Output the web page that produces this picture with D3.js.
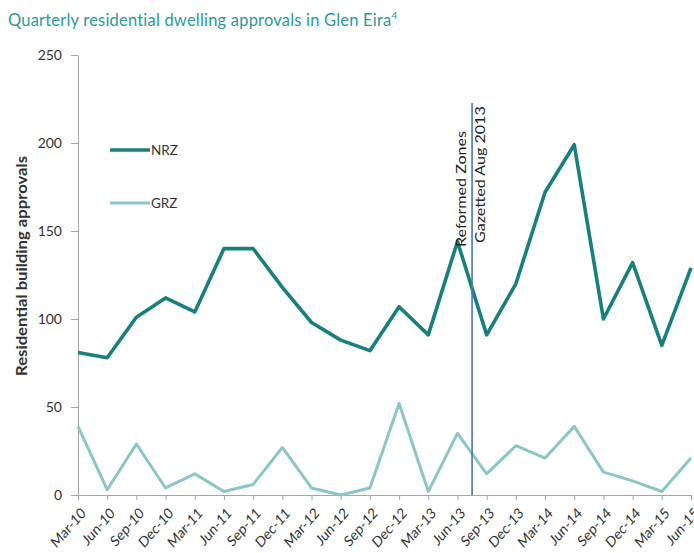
<!DOCTYPE html>
<html>
<head>
<meta charset="utf-8">
<script src="https://cdn.jsdelivr.net/npm/d3@7"></script>
<style>
  html, body { margin: 0; padding: 0; background: #fff; }
  svg { display: block; font-family: Lato, "Open Sans", sans-serif; }
</style>
</head>
<body>
<svg id="chart" width="694" height="553"></svg>
<script>
// Quarter labels along the x axis
const quarters = ["Mar-10","Jun-10","Sep-10","Dec-10","Mar-11","Jun-11","Sep-11","Dec-11",
  "Mar-12","Jun-12","Sep-12","Dec-12","Mar-13","Jun-13","Sep-13","Dec-13",
  "Mar-14","Jun-14","Sep-14","Dec-14","Mar-15","Jun-15"];

// Approvals per quarter, Neighbourhood Residential Zone
const nrz = [81, 78, 101, 112, 104, 140, 140, 118, 98, 88, 82, 107, 91, 144, 91, 120,
  172, 199, 100, 132, 85, 129];

// Approvals per quarter, General Residential Zone
const grz = [39, 3, 29, 4, 12, 2, 6, 27, 4, 0, 4, 52, 2, 35, 12, 28, 21, 39, 13, 8, 2, 21];

const yTicks = [0, 50, 100, 150, 200, 250];

// Zone change marker sits between Jun-13 and Sep-13
const markerIndex = 13.5;

const svg = d3.select("#chart");

const x = d3.scalePoint().domain(quarters).range([78, 691]);
const y = d3.scaleLinear().domain([0, 250]).range([495, 55]);

// Title with superscript footnote marker
const title = svg.append("text")
  .attr("x", 8).attr("y", 26)
  .attr("fill", "#2b9a9a")
  .attr("font-size", 16.5)
  .attr("letter-spacing", 0.2)
  .text("Quarterly residential dwelling approvals in Glen Eira");
title.append("tspan").attr("font-size", 10).attr("dy", -7).text("4");

// Y axis
const yAxis = svg.append("g")
  .attr("transform", "translate(78,0)")
  .call(d3.axisLeft(y).tickValues(yTicks).tickSize(7).tickSizeOuter(0).tickPadding(9));
yAxis.select(".domain").attr("stroke", "#a6a6a6");
yAxis.selectAll(".tick line").attr("stroke", "#a6a6a6");
yAxis.selectAll(".tick text")
  .attr("fill", "#333").attr("font-size", 14).attr("font-family", "Lato, sans-serif");

// X axis with rotated quarter labels
const xAxis = svg.append("g")
  .attr("transform", "translate(0,495)")
  .call(d3.axisBottom(x).tickSize(5).tickSizeOuter(0));
xAxis.select(".domain").attr("stroke", "#a6a6a6");
xAxis.selectAll(".tick line").attr("stroke", "#a6a6a6");
xAxis.selectAll(".tick text")
  .attr("fill", "#333").attr("font-size", 13).attr("font-family", "Lato, sans-serif")
  .attr("x", 0).attr("y", 0).attr("dy", 0)
  .attr("text-anchor", "end")
  .attr("transform", "translate(8,19) scale(1,1.15) rotate(-45)");

// Y axis title
svg.append("text")
  .attr("transform", "translate(27,266) scale(1,1.15) rotate(-90)")
  .attr("text-anchor", "middle")
  .attr("font-size", 14.5).attr("font-weight", "bold").attr("fill", "#333")
  .text("Residential building approvals");

// Series lines
const line = d3.line()
  .x((d, i) => x(quarters[i]))
  .y(d => y(d));

svg.append("path")
  .datum(grz)
  .attr("fill", "none")
  .attr("stroke", "#8cc6c6")
  .attr("stroke-width", 3)
  .attr("stroke-linejoin", "round")
  .attr("d", line);

svg.append("path")
  .datum(nrz)
  .attr("fill", "none")
  .attr("stroke", "#17807f")
  .attr("stroke-width", 3.6)
  .attr("stroke-linejoin", "round")
  .attr("d", line);

// Vertical marker for the rezoning date
const step = x.step();
const mx = x(quarters[0]) + markerIndex * step;
svg.append("line")
  .attr("x1", mx).attr("x2", mx)
  .attr("y1", 103).attr("y2", 495)
  .attr("stroke", "#4a78b0").attr("stroke-width", 1.6);

svg.append("text")
  .attr("transform", `translate(${mx - 6},247) scale(1,1.15) rotate(-90)`)
  .attr("font-size", 14).attr("fill", "#222")
  .text("Reformed  Zones");
svg.append("text")
  .attr("transform", `translate(${mx + 13},243) scale(1,1.15) rotate(-90)`)
  .attr("font-size", 14).attr("fill", "#222")
  .text("Gazetted  Aug 2013");

// Legend
const legend = [
  { name: "NRZ", color: "#17807f", width: 3.6, y: 150 },
  { name: "GRZ", color: "#8cc6c6", width: 3, y: 203 }
];
const lg = svg.append("g");
legend.forEach(l => {
  lg.append("line")
    .attr("x1", 110).attr("x2", 150)
    .attr("y1", l.y).attr("y2", l.y)
    .attr("stroke", l.color).attr("stroke-width", l.width);
  lg.append("text")
    .attr("x", 151).attr("y", l.y + 5)
    .attr("font-size", 13.5).attr("fill", "#333")
    .text(l.name);
});
</script>
</body>
</html>
